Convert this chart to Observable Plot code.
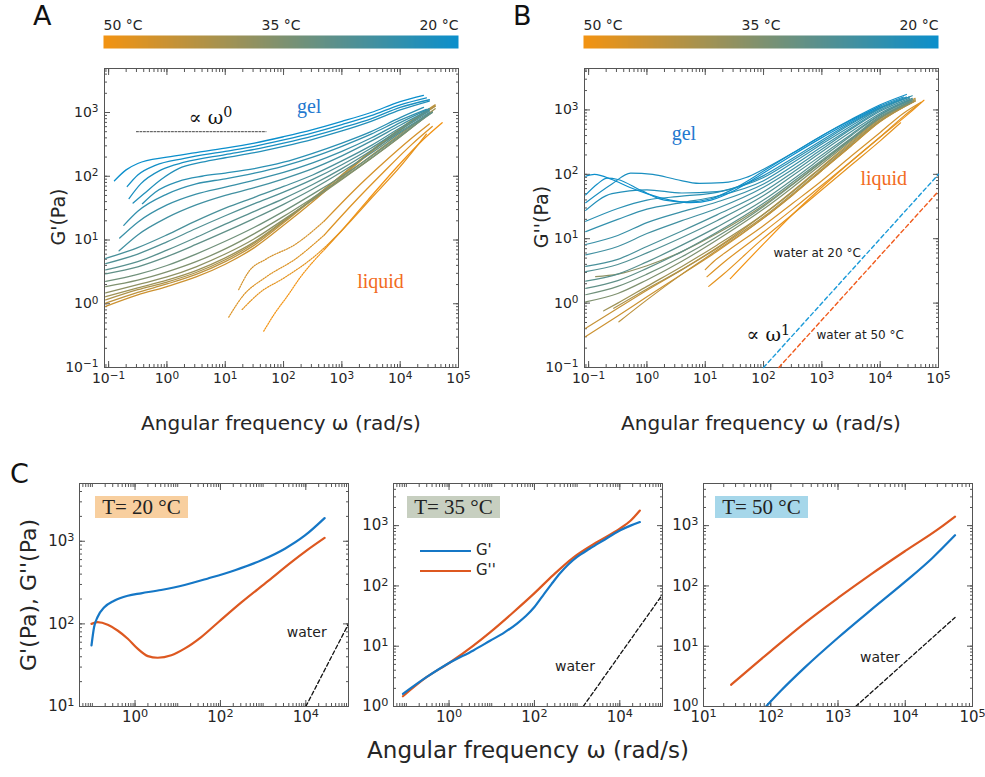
<!DOCTYPE html>
<html><head><meta charset="utf-8">
<script src="https://cdn.jsdelivr.net/npm/d3@7"></script>
<script src="https://cdn.jsdelivr.net/npm/@observablehq/plot@0.6"></script>
<style>
body{margin:0;background:#fff;}
#fig{position:relative;width:985px;height:777px;font-family:"DejaVu Sans",sans-serif;color:#262626;overflow:hidden;background:#fff;}
#fig > div{position:absolute;white-space:nowrap;}
svg{background:transparent;}
</style></head><body><div id="fig"></div>
<script>
// ---------- data (log10 ω, log10 modulus) ----------
const temperatureDomain = [20, 50];
const colorbarLabels = [50, 35, 20];

// Panel A : storage modulus G' (solid curves)
const storageCurves = [
 {T:20, pts:[[-0.9,1.93],[-0.7,2.1],[-0.5,2.2],[0,2.3],[0.5,2.37],[1,2.44],[1.5,2.52],[2,2.62],[2.5,2.73],[3,2.86],[3.5,3.0],[4,3.17],[4.4,3.27]]},
 {T:21, pts:[[-0.68,1.84],[-0.5,2.02],[-0.2,2.17],[0.3,2.28],[1,2.39],[1.5,2.47],[2,2.57],[2.5,2.68],[3,2.81],[3.5,2.95],[4,3.12],[4.45,3.23]]},
 {T:22, pts:[[-0.65,1.65],[-0.45,1.88],[-0.1,2.1],[0.3,2.22],[1,2.34],[1.5,2.42],[2,2.52],[2.5,2.63],[3,2.76],[3.5,2.9],[4,3.08],[4.5,3.2]]},
 {T:23, pts:[[-0.58,1.58],[-0.4,1.72],[-0.1,1.95],[0.2,2.12],[0.6,2.22],[1,2.29],[1.5,2.37],[2,2.47],[2.5,2.58],[3,2.71],[3.5,2.86],[4,3.04],[4.5,3.18]]},
 {T:24, pts:[[-0.42,1.57],[-0.2,1.75],[0.2,1.92],[0.6,2.0],[1,2.05],[1.5,2.12],[2,2.22],[2.5,2.36],[3,2.52],[3.5,2.7],[4,2.92],[4.4,3.08]]},
 {T:25, pts:[[-0.74,1.23],[-0.5,1.45],[0,1.72],[0.5,1.88],[1,1.96],[1.5,2.05],[2,2.16],[2.5,2.3],[3,2.47],[3.5,2.66],[4,2.88],[4.45,3.05]]},
 {T:26, pts:[[-0.81,1.03],[-0.5,1.28],[0,1.55],[0.5,1.72],[1,1.83],[1.5,1.94],[2,2.06],[2.5,2.21],[3,2.39],[3.5,2.6],[4,2.84],[4.5,3.06]]},
 {T:27, pts:[[-0.82,0.83],[-0.5,1.08],[0,1.35],[0.5,1.55],[1,1.7],[1.5,1.82],[2,1.96],[2.5,2.12],[3,2.32],[3.5,2.55],[4,2.8],[4.5,3.04]]},
 {T:28, pts:[[-1.05,0.71],[-0.5,0.88],[0,1.08],[0.5,1.3],[1,1.5],[1.5,1.67],[2,1.84],[2.5,2.02],[3,2.24],[3.5,2.48],[4,2.76],[4.5,3.02]]},
 {T:29, pts:[[-1.05,0.63],[-0.5,0.78],[0,0.97],[0.5,1.18],[1,1.38],[1.5,1.57],[2,1.75],[2.5,1.95],[3,2.18],[3.5,2.44],[4,2.73],[4.5,3.0]]},
 {T:30, pts:[[-1.05,0.53],[-0.5,0.66],[0,0.84],[0.5,1.04],[1,1.25],[1.5,1.45],[2,1.65],[2.5,1.87],[3,2.12],[3.5,2.4],[4,2.7],[4.5,2.98]]},
 {T:31, pts:[[-1.05,0.47],[-0.5,0.58],[0,0.74],[0.5,0.93],[1,1.13],[1.5,1.34],[2,1.56],[2.5,1.8],[3,2.07],[3.5,2.36],[4,2.68],[4.55,3.0]]},
 {T:33, pts:[[-1.05,0.35],[-0.5,0.46],[0,0.6],[0.5,0.78],[1,0.98],[1.5,1.2],[2,1.45],[2.5,1.72],[3,2.0],[3.5,2.31],[4,2.64],[4.55,3.0]]},
 {T:35, pts:[[-1.05,0.27],[-0.5,0.37],[0,0.5],[0.5,0.66],[1,0.86],[1.5,1.1],[2,1.37],[2.5,1.66],[3,1.96],[3.5,2.28],[4,2.62],[4.5,2.98]]},
 {T:37, pts:[[-1.05,0.17],[-0.5,0.3],[0,0.42],[0.5,0.58],[1,0.78],[1.5,1.02],[2,1.32],[2.5,1.63],[3,1.95],[3.5,2.28],[4,2.62],[4.55,3.02]]},
 {T:39, pts:[[-1.05,0.11],[-0.5,0.25],[0,0.37],[0.5,0.52],[1,0.72],[1.5,0.97],[2,1.3],[2.5,1.64],[3,1.98],[3.5,2.32],[4,2.66],[4.6,3.06]]},
 {T:41, pts:[[-1.05,0.06],[-0.5,0.22],[0,0.34],[0.5,0.49],[1,0.69],[1.5,0.95],[2,1.29],[2.5,1.65],[3,2.02],[3.5,2.38],[4,2.72],[4.6,3.1]]},
 {T:43, pts:[[-1.05,0.01],[-0.5,0.18],[0,0.31],[0.5,0.46],[1,0.66],[1.5,0.92],[2,1.27],[2.5,1.64],[3,2.02],[3.5,2.4],[4,2.75],[4.6,3.12]]},
 {T:45, pts:[[-1.05,-0.04],[-0.5,0.14],[0,0.27],[0.5,0.42],[1,0.62],[1.5,0.88],[2,1.23],[2.5,1.6],[3,1.99],[3.5,2.38],[4,2.74],[4.6,3.1]]}
];
// Panel A : liquid-state G' (dotted at low ω, solid above)
const storageLiquid = [
 {T:46, pts:[[1.23,0.22],[1.4,0.5],[1.7,0.7],[2.2,0.93],[2.7,1.3],[3.2,1.77],[3.7,2.2],[4.2,2.6],[4.5,2.82]]},
 {T:47, pts:[[1.06,-0.21],[1.3,0.12],[1.7,0.42],[2.2,0.7],[2.7,1.08],[3.2,1.58],[3.7,2.05],[4.2,2.5],[4.55,2.78]]},
 {T:48, pts:[[1.29,-0.09],[1.6,0.18],[2.0,0.4],[2.5,0.72],[2.75,0.92],[3.0,1.15],[3.5,1.65],[4.0,2.15],[4.45,2.66]]},
 {T:50, pts:[[1.66,-0.43],[1.85,-0.15],[2.05,0.1],[2.3,0.43],[2.7,0.85],[2.9,1.05],[3.45,1.63],[4.0,2.2],[4.4,2.58],[4.72,2.84]]}
];
const liquidDottedUpToLog = 2.75;

// Panel B : loss modulus G''
const lossCurves = [
 {T:20, pts:[[-1.05,1.97],[-0.9,2.0],[-0.6,1.92],[-0.3,1.8],[0,1.7],[0.4,1.6],[0.75,1.56],[1.1,1.6],[1.5,1.75],[2,2.02],[2.5,2.3],[3,2.57],[3.5,2.82],[4.0,3.06]]},
 {T:21, pts:[[-1.05,1.68],[-0.85,1.85],[-0.68,1.94],[-0.5,1.92],[-0.1,1.75],[0.3,1.6],[0.7,1.57],[1.1,1.62],[1.5,1.78],[2,2.05],[2.5,2.33],[3,2.6],[3.5,2.85],[4,3.08],[4.45,3.24]]},
 {T:22, pts:[[-1.05,1.56],[-0.6,1.85],[-0.28,2.02],[0.1,2.0],[0.5,1.92],[0.9,1.86],[1.3,1.87],[1.7,1.95],[2,2.08],[2.5,2.33],[3,2.6],[3.5,2.84],[4,3.06],[4.4,3.2]]},
 {T:23, pts:[[-1.05,1.44],[-0.6,1.7],[0,1.76],[0.6,1.71],[1.2,1.73],[1.6,1.82],[2,1.98],[2.5,2.25],[3,2.53],[3.5,2.8],[4,3.04],[4.45,3.2]]},
 {T:24, pts:[[-1.05,1.27],[-0.5,1.47],[0,1.6],[0.6,1.66],[1.2,1.72],[2,1.95],[2.5,2.22],[3,2.5],[3.5,2.78],[4,3.03],[4.5,3.2]]},
 {T:25, pts:[[-1.05,1.11],[-0.5,1.3],[0,1.46],[0.6,1.56],[1.2,1.66],[2,1.9],[2.5,2.18],[3,2.47],[3.5,2.75],[4,3.02],[4.5,3.2]]},
 {T:26, pts:[[-1.05,0.91],[-0.5,1.05],[0,1.25],[0.6,1.42],[1.2,1.57],[2,1.85],[2.5,2.13],[3,2.43],[3.5,2.72],[4,3.0],[4.55,3.22]]},
 {T:27, pts:[[-1.05,0.75],[-0.5,0.88],[0,1.08],[0.6,1.28],[1.2,1.47],[2,1.8],[2.5,2.08],[3,2.39],[3.5,2.7],[4,2.98],[4.5,3.18]]},
 {T:28, pts:[[-1.05,0.57],[-0.5,0.68],[0,0.88],[0.6,1.12],[1.2,1.37],[2,1.73],[2.5,2.03],[3,2.35],[3.5,2.66],[4,2.95],[4.55,3.18]]},
 {T:29, pts:[[-1.05,0.49],[-0.5,0.6],[0,0.78],[0.6,1.02],[1.2,1.28],[2,1.67],[2.5,1.98],[3,2.3],[3.5,2.62],[4,2.93],[4.5,3.15]]},
 {T:30, pts:[[-1.05,0.34],[-0.5,0.45],[0,0.64],[0.6,0.9],[1.2,1.18],[2,1.6],[2.5,1.92],[3,2.26],[3.5,2.6],[4,2.92],[4.55,3.16]]},
 {T:31, pts:[[-1.05,0.23],[-0.5,0.35],[0,0.54],[0.6,0.8],[1.2,1.1],[2,1.55],[2.5,1.88],[3,2.22],[3.5,2.56],[4,2.9],[4.5,3.12]]},
 {T:33, pts:[[-1.05,0.13],[-0.5,0.26],[0,0.45],[0.6,0.72],[1.2,1.03],[2,1.5],[2.5,1.84],[3,2.19],[3.5,2.54],[4,2.88],[4.55,3.14]]},
 {T:35, pts:[[-1.05,0.02],[-0.5,0.15],[0,0.36],[0.6,0.65],[1.2,0.98],[2,1.46],[2.5,1.8],[3,2.16],[3.5,2.52],[4,2.87],[4.5,3.1]]},
 {T:37, pts:[[-0.88,0.41],[-0.5,0.45],[0,0.58],[0.6,0.8],[1.2,1.08],[2,1.52],[2.5,1.85],[3,2.2],[3.5,2.55],[4,2.88],[4.55,3.12]]},
 {T:39, pts:[[-0.74,-0.12],[-0.5,0.0],[0,0.26],[0.6,0.57],[1.2,0.9],[2,1.38],[2.5,1.73],[3,2.11],[3.5,2.48],[4,2.84],[4.6,3.16]]},
 {T:41, pts:[[-0.57,-0.08],[0,0.22],[0.6,0.52],[1.2,0.85],[2,1.34],[2.5,1.7],[3,2.08],[3.5,2.46],[4,2.83],[4.6,3.14]]},
 {T:43, pts:[[-0.48,-0.29],[0,0.05],[0.6,0.45],[1.2,0.82],[2,1.32],[2.5,1.68],[3,2.06],[3.5,2.44],[4,2.82],[4.6,3.14]]},
 {T:44, pts:[[-1.05,-0.39],[-0.5,-0.08],[0,0.2],[0.6,0.52],[1.2,0.86],[2,1.38],[2.5,1.74],[3,2.12],[3.5,2.5],[4,2.86],[4.6,3.18]]},
 {T:45, pts:[[-1.05,-0.52],[-0.5,-0.2],[0,0.1],[0.6,0.45],[1.2,0.8],[2,1.32],[2.5,1.68],[3,2.06],[3.5,2.44],[4,2.82],[4.6,3.14]]},
 {T:46, pts:[[1.0,0.52],[1.15,0.65],[1.4,0.82],[1.95,1.17],[2.5,1.55],[3,1.9],[3.5,2.28],[4,2.65],[4.4,2.95],[4.7,3.12]]},
 {T:47, pts:[[1.03,0.41],[1.3,0.62],[1.95,1.07],[2.5,1.46],[3,1.83],[3.5,2.2],[4,2.58],[4.4,2.9],[4.65,3.08]]},
 {T:48, pts:[[1.06,0.26],[1.3,0.44],[1.95,0.97],[2.5,1.38],[3,1.76],[3.5,2.14],[4,2.52],[4.35,2.8]]},
 {T:50, pts:[[1.43,0.38],[2,0.92],[2.5,1.38],[3,1.8],[3.5,2.2],[4,2.58],[4.5,2.95],[4.75,3.15]]}
];

// water reference lines (ω in rad/s, G'' in Pa)
const waterB = [
 {label:"20 °C", pts:[[100,0.1],[1e5,100]]},
 {label:"50 °C", pts:[[183,0.1],[1e5,54.7]]}
];
const omegaZeroRef = [[0.3,500],[50,500]];

// Panel C : single temperatures (log10 ω, log10 G)
const c20Gp  = [[-1.02,1.74],[-0.96,1.96],[-0.88,2.08],[-0.72,2.2],[-0.49,2.28],[-0.17,2.34],[0.14,2.37],[0.61,2.41],[1.16,2.47],[1.71,2.55],[2.34,2.65],[2.96,2.77],[3.51,2.91],[3.98,3.07],[4.44,3.28]];
const c20Gpp = [[-1.02,2.0],[-0.88,2.02],[-0.64,1.99],[-0.41,1.92],[-0.17,1.82],[0.06,1.7],[0.3,1.61],[0.53,1.59],[0.85,1.62],[1.16,1.7],[1.55,1.84],[1.95,2.02],[2.49,2.26],[3.12,2.52],[3.67,2.75],[4.0,2.88],[4.44,3.04]];
const c35Gp  = [[-1.08,0.21],[-0.52,0.49],[0.02,0.73],[0.57,0.93],[0.96,1.09],[1.3,1.23],[1.6,1.38],[1.8,1.5],[2.0,1.65],[2.2,1.84],[2.4,2.03],[2.6,2.21],[2.8,2.36],[3.0,2.48],[3.3,2.62],[3.6,2.75],[4.0,2.92],[4.25,3.0],[4.47,3.06]];
const c35Gpp = [[-1.08,0.17],[-0.52,0.49],[0.02,0.73],[0.57,1.01],[0.96,1.23],[1.5,1.56],[1.97,1.86],[2.44,2.18],[2.91,2.47],[3.45,2.72],[4.0,2.95],[4.25,3.08],[4.47,3.25]];
const c50Gp  = [[1.93,0.0],[2.15,0.26],[2.5,0.64],[3.0,1.14],[3.5,1.61],[4.0,2.07],[4.4,2.46],[4.74,2.84]];
const c50Gpp = [[1.41,0.36],[2,0.92],[2.5,1.38],[3,1.8],[3.5,2.2],[4,2.58],[4.5,2.95],[4.74,3.15]];
const waterC = [
 [[1e4,10],[1e5,100]],
 [[1389,1],[1e5,72]],
 [[1828,1],[5.5e4,30]]
];

// tick values
const ticksAB_x = [0.1,1,10,100,1e3,1e4,1e5];
const ticksAB_y = [0.1,1,10,100,1e3];
const ticksC1_x = [1,100,1e4], ticksC1_y = [10,100,1e3];
const ticksC2_x = [1,100,1e4], ticksC2_y = [1,10,100,1e3];
const ticksC3_x = [10,100,1e3,1e4,1e5], ticksC3_y = [1,10,100,1e3];

// ---------- helpers ----------
const fig = document.getElementById("fig");
const pow10Label = v => "10^" + String(Math.round(Math.log10(v))).replace("-", "−");
const blank = () => "";
const AX = "#555";
const colorScale = {type:"linear", domain: temperatureDomain, range:["#0b8fcc","#f39312"], interpolate:"rgb"};
const fromLog = pts => pts.map(([a,b]) => ({w: 10**a, g: 10**b}));
const rowsOf = curves => curves.flatMap(c => c.pts.map(([a,b]) => ({T:c.T, w:10**a, g:10**b})));
const NS = "http://www.w3.org/2000/svg";

// turn "base^exp" texts into real superscripts
function supify(svg) {
  svg.querySelectorAll("text").forEach(t => {
    const m = t.textContent.match(/^(.*?)\^(.+)$/);
    if (!m) return;
    while (t.firstChild) t.removeChild(t.firstChild);
    const a = document.createElementNS(NS, "tspan"); a.textContent = m[1];
    const b = document.createElementNS(NS, "tspan"); b.textContent = m[2];
    b.setAttribute("dy", "-0.45em"); b.setAttribute("font-size", "0.75em");
    t.append(a, b);
  });
  return svg;
}

function boxAxes(xMajor, yMajor, pad) {
  const o = {stroke: AX, tickFormat: blank};
  return [
    Plot.axisX({anchor:"bottom", ticks:10, tickSize:-3, ...o}),
    Plot.axisX({anchor:"top", ticks:10, tickSize:-3, ...o}),
    Plot.axisY({anchor:"left", ticks:10, tickSize:-3, ...o}),
    Plot.axisY({anchor:"right", ticks:10, tickSize:-3, ...o}),
    Plot.axisX({anchor:"bottom", ticks:xMajor, tickSize:-6, ...o}),
    Plot.axisX({anchor:"top", ticks:xMajor, tickSize:-6, ...o}),
    Plot.axisY({anchor:"left", ticks:yMajor, tickSize:-6, ...o}),
    Plot.axisY({anchor:"right", ticks:yMajor, tickSize:-6, ...o}),
    Plot.axisX({anchor:"bottom", ticks:xMajor, tickSize:0, tickPadding:pad, tickFormat:pow10Label}),
    Plot.axisY({anchor:"left", ticks:yMajor, tickSize:0, tickPadding:pad, tickFormat:pow10Label}),
    Plot.frame({stroke: AX})
  ];
}
function place(el, left, top, w, h) {
  const d = document.createElement("div");
  Object.assign(d.style, {left: left+"px", top: top+"px", width: w+"px", height: h+"px"});
  d.appendChild(supify(el)); fig.appendChild(d); return d;
}
function label(txt, css) {
  const d = document.createElement("div");
  d.textContent = txt; Object.assign(d.style, css); fig.appendChild(d); return d;
}

// ---------- colorbars ----------
function colorbar(left, w, mr) {
  const cb = Plot.plot({
    width: w, height: 60, marginLeft: 103, marginRight: mr, marginTop: 35, marginBottom: 12,
    x: {domain: [50, 20], axis: null}, y: {domain: [0, 1], axis: null},
    color: colorScale,
    style: {fontFamily: "DejaVu Sans", fontSize: "14px", color: "#262626", background: "transparent"},
    marks: [
      Plot.raster({x1: 50, x2: 20, y1: 0, y2: 1, width: 300, height: 1, fill: (x, y) => x, imageRendering: "auto"}),
      Plot.text([colorbarLabels[0]], {x: d => d, y: 1, text: d => `${d} °C`, textAnchor: "start", lineAnchor: "bottom", dy: -6, fontSize: 14}),
      Plot.text([colorbarLabels[1]], {x: d => d, y: 1, text: d => `${d} °C`, textAnchor: "middle", lineAnchor: "bottom", dy: -6, fontSize: 14}),
      Plot.text([colorbarLabels[2]], {x: d => d, y: 1, text: d => `${d} °C`, textAnchor: "end", lineAnchor: "bottom", dy: -6, fontSize: 14})
    ]
  });
  place(cb, left, 0, w, 60);
}

// ---------- Panel A ----------
const liquidRows = storageLiquid.flatMap(c => c.pts.map(([a,b]) => ({T:c.T, la:a, w:10**a, g:10**b})));
const dottedRows = liquidRows.filter(d => d.la <= liquidDottedUpToLog);
const lastDotted = d3.rollup(dottedRows, v => d3.max(v, d => d.la), d => d.T);
const liquidSolidRows = liquidRows.filter(d => d.la >= lastDotted.get(d.T));
const solidA = rowsOf(storageCurves).concat(liquidSolidRows).sort((a,b) => d3.descending(a.T,b.T));

const plotA = Plot.plot({
  width: 480, height: 440, marginLeft: 104, marginRight: 22, marginTop: 68, marginBottom: 73,
  x: {type: "log", domain: [0.085, 1e5], label: null},
  y: {type: "log", domain: [0.1, 4900], label: null},
  color: colorScale,
  style: {fontFamily: "DejaVu Sans", fontSize: "14px", color: "#262626", background: "transparent"},
  marks: [
    ...boxAxes(ticksAB_x, ticksAB_y, 6),
    Plot.line(solidA, {x: "w", y: "g", z: "T", stroke: "T", strokeWidth: 1.3, curve: "monotone-x", clip: true}),
    Plot.line(dottedRows, {x: "w", y: "g", z: "T", stroke: "T", strokeWidth: 1.2, strokeDasharray: "1.3,1.3", curve: "monotone-x", clip: true}),
    Plot.line(omegaZeroRef.map(([w,g]) => ({w, g})), {x: "w", y: "g", stroke: "#444", strokeWidth: 1, strokeDasharray: "2,1.5"}),
    Plot.text(["∝ ω^0"], {x: 5.6, y: 830, text: d => d, fontSize: 19, fontFamily: "DejaVu Serif", fill: "#111"}),
    Plot.text(["gel"], {x: 275, y: 1250, text: d => d, fontSize: 20, fontFamily: "Liberation Serif", fill: "#2478cf"}),
    Plot.text(["liquid"], {x: 4600, y: 2.2, text: d => d, fontSize: 20, fontFamily: "Liberation Serif", fill: "#f26b22"})
  ]
});
place(plotA, 0, 0, 480, 440);

// ---------- Panel B ----------
const rowsB = rowsOf(lossCurves).sort((a,b) => d3.descending(a.T,b.T));
const waterRowsB = waterB.flatMap(d => d.pts.map(([w,g]) => ({k: d.label, w, g})));
const plotB = Plot.plot({
  width: 505, height: 440, marginLeft: 104, marginRight: 47, marginTop: 68, marginBottom: 73,
  x: {type: "log", domain: [0.085, 1e5], label: null},
  y: {type: "log", domain: [0.1, 4400], label: null},
  color: colorScale,
  style: {fontFamily: "DejaVu Sans", fontSize: "14px", color: "#262626", background: "transparent"},
  marks: [
    ...boxAxes(ticksAB_x, ticksAB_y, 6),
    Plot.line(rowsB, {x: "w", y: "g", z: "T", stroke: "T", strokeWidth: 1.2, curve: "monotone-x", clip: true}),
    Plot.line(waterRowsB.filter(d => d.k === "20 °C"), {x: "w", y: "g", stroke: "#1b9ad8", strokeWidth: 1.4, strokeDasharray: "4,3"}),
    Plot.line(waterRowsB.filter(d => d.k === "50 °C"), {x: "w", y: "g", stroke: "#f05a1c", strokeWidth: 1.4, strokeDasharray: "4,3"}),
    Plot.text(["water at 20 °C"], {x: 148, y: 5.9, text: d => d, textAnchor: "start", fontSize: 12, fill: "#222"}),
    Plot.text(["water at 50 °C"], {x: 810, y: 0.32, text: d => d, textAnchor: "start", fontSize: 12, fill: "#222"}),
    Plot.text(["∝ ω^1"], {x: 51, y: 0.32, text: d => d, textAnchor: "start", fontSize: 19, fontFamily: "DejaVu Serif", fill: "#111"}),
    Plot.text(["gel"], {x: 4.3, y: 425, text: d => d, fontSize: 20, fontFamily: "Liberation Serif", fill: "#2478cf"}),
    Plot.text(["liquid"], {x: 11500, y: 86, text: d => d, fontSize: 20, fontFamily: "Liberation Serif", fill: "#f26b22"})
  ]
});
place(plotB, 480, 0, 505, 440);

colorbar(0, 480, 22);
colorbar(480, 505, 47);

// ---------- Panel C ----------
const CBLUE = "#1577c6", CORANGE = "#dd5820";
function panelC({width, ml, mr, xDomain, yDomain, xt, yt, gp, gpp, water, waterAt}) {
  return Plot.plot({
    width, height: 317, marginLeft: ml, marginRight: mr, marginTop: 23, marginBottom: 71,
    x: {type: "log", domain: xDomain, label: null},
    y: {type: "log", domain: yDomain, label: null},
    style: {fontFamily: "DejaVu Sans", fontSize: "15px", color: "#262626", background: "transparent"},
    marks: [
      ...boxAxes(xt, yt, 5),
      Plot.line(water.map(([w,g]) => ({w, g})), {x: "w", y: "g", stroke: "#111", strokeWidth: 1.3, strokeDasharray: "4,2.5", clip: true}),
      Plot.line(fromLog(gpp), {x: "w", y: "g", stroke: CORANGE, strokeWidth: 2.2, curve: "monotone-x", clip: true}),
      Plot.line(fromLog(gp), {x: "w", y: "g", stroke: CBLUE, strokeWidth: 2.2, curve: "monotone-x", clip: true}),
      Plot.text(["water"], {x: waterAt[0], y: waterAt[1], text: d => d, fontSize: 14, fill: "#222"})
    ]
  });
}
place(panelC({width: 360, ml: 79, mr: 12, xDomain: [0.05, 1e5], yDomain: [10, 5000], xt: ticksC1_x, yt: ticksC1_y, gp: c20Gp, gpp: c20Gpp, water: waterC[0], waterAt: [1.05e4, 79]}), 0, 460, 360, 317);
place(panelC({width: 310, ml: 33, mr: 8, xDomain: [0.05, 1e5], yDomain: [1, 5000], xt: ticksC2_x, yt: ticksC2_y, gp: c35Gp, gpp: c35Gpp, water: waterC[1], waterAt: [890, 4.6]}), 360, 460, 310, 317);
place(panelC({width: 315, ml: 33, mr: 13, xDomain: [10, 1e5], yDomain: [1, 5000], xt: ticksC3_x, yt: ticksC3_y, gp: c50Gp, gpp: c50Gpp, water: waterC[2], waterAt: [4200, 6.5]}), 670, 460, 315, 317);

// ---------- text overlays ----------
label("A", {left: "33px", top: "0px", fontSize: "27px", color: "#111"});
label("B", {left: "513px", top: "0px", fontSize: "27px", color: "#111"});
label("C", {left: "10px", top: "458px", fontSize: "27px", color: "#111"});
const xTitle = "Angular frequency ω (rad/s)";
label(xTitle, {left: "104px", width: "354px", top: "411px", textAlign: "center", fontSize: "20px"});
label(xTitle, {left: "584px", width: "354px", top: "411px", textAlign: "center", fontSize: "20px"});
label(xTitle, {left: "300px", width: "456px", top: "737px", textAlign: "center", fontSize: "23px"});
const rot = {transform: "translate(-50%,-50%) rotate(-90deg)"};
label("G'(Pa)", {left: "58px", top: "217px", fontSize: "19px", ...rot});
label("G''(Pa)", {left: "541px", top: "217px", fontSize: "19px", ...rot});
label("G'(Pa), G''(Pa)", {left: "28px", top: "595px", fontSize: "22px", ...rot});
const box = {height: "22px", width: "93px", lineHeight: "22px", textAlign: "center", fontFamily: "'Liberation Serif', serif", fontSize: "21px", color: "#222", top: "496px"};
label("T= 20 °C", {...box, left: "95px", background: "#f8cf9f"});
label("T= 35 °C", {...box, left: "407px", background: "#c7cfc0"});
label("T= 50 °C", {...box, left: "715px", background: "#a6d7ea"});
// legend in C2
const leg = document.createElement("div");
Object.assign(leg.style, {left: "420px", top: "540px", fontSize: "15px", lineHeight: "20px"});
leg.innerHTML = `<div><span style="display:inline-block;width:51px;border-top:2.5px solid ${CBLUE};vertical-align:middle;margin-right:5px"></span>G'</div>` +
                `<div><span style="display:inline-block;width:51px;border-top:2.5px solid ${CORANGE};vertical-align:middle;margin-right:5px"></span>G''</div>`;
fig.appendChild(leg);
</script></body></html>
